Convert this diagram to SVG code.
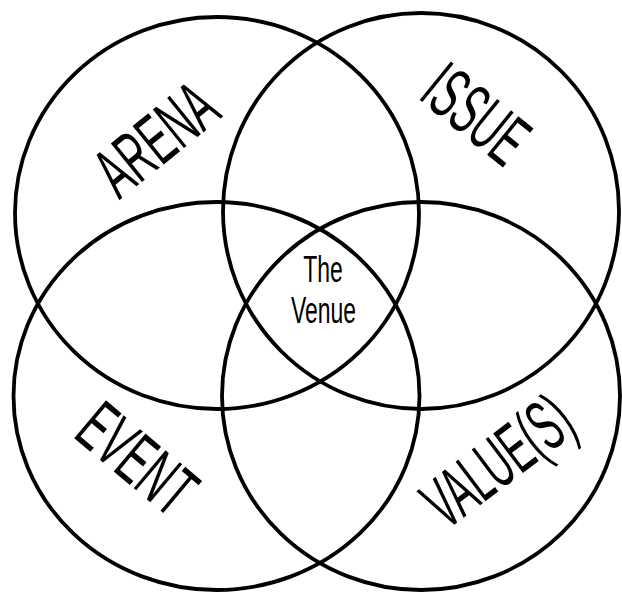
<svg xmlns="http://www.w3.org/2000/svg" width="622" height="592" viewBox="0 0 622 592">
<style>
.ring{fill:none;stroke:#000;stroke-width:3.8}
.lbl{font-family:"Liberation Sans",Arial,sans-serif;font-size:72px;fill:#000;text-anchor:middle}
.ctr{font-family:"Liberation Sans",Arial,sans-serif;font-size:37px;fill:#000;text-anchor:middle}
</style>
<rect width="622" height="592" fill="#fff"/>
<g id="connectors"></g>
<g id="arena">
<ellipse class="ring" cx="217" cy="213" rx="202" ry="196"/>
<text class="lbl" transform="translate(155,138) rotate(-39) scale(0.54,1)" y="26">ARENA</text>
</g>
<g id="issue">
<ellipse class="ring" cx="421" cy="211" rx="198" ry="198"/>
<text class="lbl" transform="translate(477,113) rotate(39) scale(0.52,1)" y="26">ISSUE</text>
</g>
<g id="event">
<ellipse class="ring" cx="216.5" cy="396" rx="203" ry="194"/>
<text class="lbl" transform="translate(138,458) rotate(40) scale(0.54,1)" y="26">EVENT</text>
</g>
<g id="values">
<ellipse class="ring" cx="421" cy="396" rx="199" ry="194"/>
<text class="lbl" transform="translate(497,460) rotate(-37) scale(0.51,1)" y="26">VALUE(S)</text>
</g>
<g id="venue">
<text class="ctr" transform="translate(323,282) scale(0.62,1)">The</text>
<text class="ctr" transform="translate(323.5,323) scale(0.62,1)">Venue</text>
</g>
</svg>
